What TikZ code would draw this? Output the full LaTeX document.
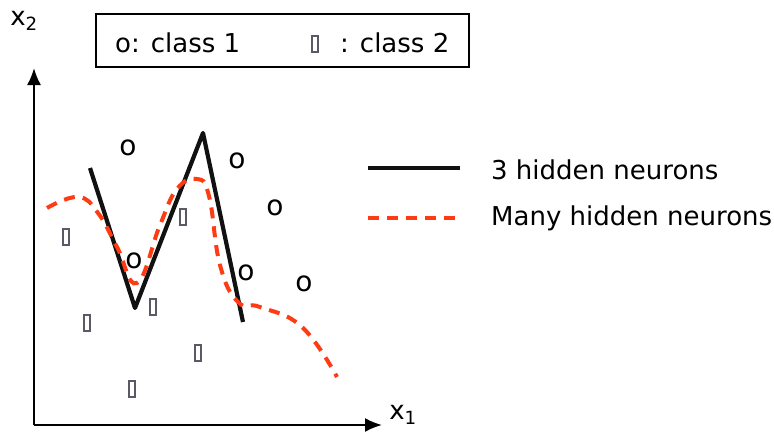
\documentclass[tikz,border=0pt]{standalone}
\usepackage{fontspec}
\setmainfont{DejaVu Sans}
\usetikzlibrary{arrows.meta,positioning}
\definecolor{ink}{HTML}{111111}
\definecolor{redc}{HTML}{FF3B14}
\definecolor{boxc}{HTML}{5A5A66}

\begin{document}
\begin{tikzpicture}[x=1pt, y=-1pt, >=Latex, font=\fontsize{26}{30}\selectfont,
  axis/.style={-{Latex[length=17pt, width=14pt]}, line width=2pt},
  mark2/.style={draw=boxc, line width=1.1pt, minimum width=6pt, minimum height=16pt, inner sep=0pt},
  mark1/.style={inner sep=0pt, font=\fontsize{28}{30}\selectfont},
  few/.style={ink, line width=4.2pt, line join=round},
  many/.style={redc, line width=4pt, dash pattern=on 11pt off 8pt}]
\useasboundingbox (0,0) rectangle (774,434);
% axes
\coordinate (O) at (34,425);
\coordinate (ytop) at (34,68);
\coordinate (xend) at (382,425);
\draw[axis] (O) -- (ytop);
\draw[axis] (O) -- (xend);
\node (lx2) at (24,21) {x\textsubscript{2}};
\node (lx1) at (403,415) {x\textsubscript{1}};
% legend box
\node[draw, line width=1.6pt, minimum width=373pt, minimum height=53pt] (leg) at (282.5,40.5) {};
\node[anchor=west, inner sep=0pt] (c1) at (115,43) {o: class 1};
\node[mark2] (c2box) at (315,44) {};
\node[anchor=west, inner sep=0pt] (c2) at (340,43) {: class 2};
% class 1
\foreach \px/\py [count=\i] in {128/148, 237/161, 275/208, 134/261, 246/273, 304/284}
  \node[mark1] (o\i) at (\px,\py) {o};
% class 2
\foreach \px/\py [count=\i] in {66/237, 87/323, 183/217, 153/307, 198/353, 132/389}
  \node[mark2] (r\i) at (\px,\py) {};
% 3 hidden neurons
\draw[few] (90,168) -- (135,308) -- (203,133) -- (243,322);
% many hidden neurons
\draw[many] plot[smooth, tension=0.75] coordinates {(47,208) (78,197) (98,213) (117,247) (137,283) (160,225) (177,189) (197,179) (209,196) (220,265) (238,302) (260,307) (302,327) (337,377)};
% key
\coordinate (k1a) at (368,168);
\coordinate (k1b) at (460,168);
\coordinate (k2a) at (368,218);
\coordinate (k2b) at (460,218);
\draw[few] (k1a) -- (k1b);
\draw[many] (k2a) -- (k2b);
\node[anchor=west, inner sep=0pt] (t1) at (491,170) {3 hidden neurons};
\node[anchor=west, inner sep=0pt] (t2) at (491,218) {Many hidden neurons};
\end{tikzpicture}
\end{document}
